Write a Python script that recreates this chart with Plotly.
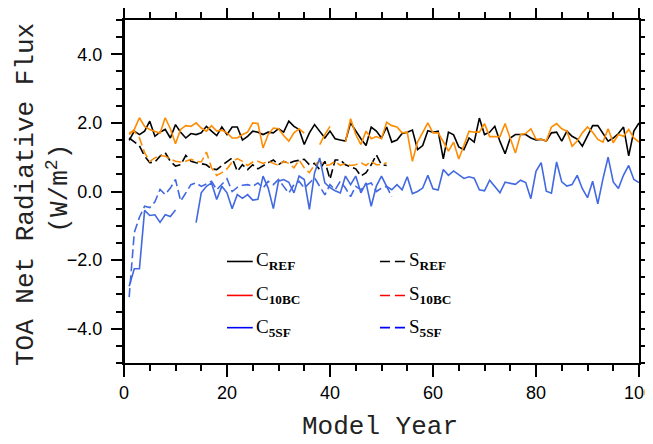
import plotly.graph_objects as go

# ---------------- data ----------------
years_c = list(range(1, 101))
years_s_ref = list(range(1, 52))
years_s_10bc = list(range(1, 52))
years_s_5sf = list(range(1, 53))

c_ref = [1.49, 1.76, 1.66, 1.76, 2.05, 1.61, 1.73, 1.81, 1.56, 1.95,
         1.73, 1.56, 1.69, 1.66, 1.71, 1.90, 1.76, 1.63, 1.88, 1.66,
         1.88, 1.88, 1.50, 1.61, 1.76, 1.73, 1.66, 1.73, 1.71, 1.83,
         1.73, 2.05, 1.90, 1.81, 1.37, 1.71, 1.95, 1.76, 1.56, 1.76,
         1.54, 1.50, 1.47, 2.00, 1.76, 1.54, 1.34, 1.88, 1.76, 1.56,
         1.88, 1.44, 1.50, 1.69, 1.73, 1.79, 1.22, 1.34, 1.77, 1.73,
         1.76, 0.95, 1.73, 1.65, 1.30, 1.22, 1.56, 1.44, 2.14, 1.66,
         1.73, 1.90, 1.46, 1.10, 1.56, 1.66, 1.66, 1.66, 1.56, 1.50,
         1.52, 1.47, 1.71, 1.73, 1.47, 1.76, 1.61, 1.53, 1.32, 1.61,
         1.92, 1.92, 1.71, 1.47, 1.56, 1.69, 1.88, 1.04, 1.76, 2.00]

c_10bc = [1.66, 1.81, 2.15, 1.90, 1.81, 1.76, 1.70, 2.15, 1.83, 1.39,
          1.81, 1.92, 1.90, 2.00, 1.85, 1.76, 1.92, 1.76, 1.79, 1.71,
          1.56, 1.56, 1.66, 1.73, 2.00, 1.98, 1.27, 1.66, 1.85, 1.83,
          1.63, 1.47, 1.71, 1.83, 1.70, None, None, 1.37, 1.66, 1.90,
          None, None, 1.45, 2.12, 1.66, 1.37, 1.76, 1.54, 1.60, 1.54,
          2.02, 1.92, 1.88, 1.71, 1.73, 0.88, 1.44, 1.71, 2.00, 1.71,
          1.71, 1.45, 1.18, 1.44, 0.95, 1.34, 1.76, 1.73, 1.73, 1.98,
          1.60, 1.60, 1.60, 1.98, 1.54, 1.12, 1.66, 1.69, 1.83, 1.53,
          1.52, 1.47, 1.88, 1.98, 1.83, 1.76, 1.32, 1.47, 1.71, 1.88,
          1.73, 1.52, 1.44, 1.83, 1.42, 1.66, 1.61, 1.81, 1.56, 1.44]

c_5sf = [-2.76, -2.25, -2.25, -0.55, -0.70, -0.68, -0.90, -0.68, -0.73, -0.54,
         None, None, None, -0.91, -0.04, 0.15, 0.25, -0.23, 0.15, -0.04,
         -0.50, -0.09, -0.20, -0.09, -0.25, -0.23, 0.45, 0.10, -0.50, 0.30,
         0.35, 0.27, -0.04, 0.45, 0.35, -0.52, 0.54, 0.98, 0.25, 0.11,
         0.02, -0.04, 0.45, 0.20, 0.45, -0.04, 0.25, -0.43, 0.16, 0.45,
         0.15, 0.05, 0.20, 0.05, 0.43, -0.06, 0.00, 0.10, 0.47, 0.08,
         0.04, 0.64, 0.47, 0.60, 0.50, 0.38, 0.43, 0.39, 0.05, 0.02,
         0.33, 0.16, -0.04, 0.27, 0.25, 0.21, 0.33, 0.26, -0.21, 0.59,
         0.84, 0.01, -0.05, 0.86, 0.28, 0.16, 0.20, 0.47, 0.08, -0.18,
         0.30, -0.36, 0.37, 1.00, 0.28, 0.09, 0.48, 0.76, 0.35, 0.26]

s_ref = [1.56, 1.45, 1.33, 1.03, 0.84, 0.86, 1.03, 1.13, 0.88, 0.74,
         0.78, 1.05, 0.88, 0.84, 0.82, 0.78, 0.66, 0.64, 0.76, 0.86,
         0.98, 0.59, 0.78, 0.64, 0.78, 0.66, 0.76, 0.84, 0.92, 0.78,
         0.88, 0.82, 0.88, 0.92, 0.94, 0.78, 0.82, 0.64, 0.88, 0.36,
         0.92, 0.92, 0.78, 0.72, 0.66, 0.45, 0.55, 0.78, 1.07, 0.78,
         0.76]

s_10bc = [1.71, 1.76, 1.56, 1.13, 0.88, 0.98, 1.05, 1.03, 0.94, 0.88,
          0.86, 0.88, 0.94, 0.88, 0.86, 1.15, 0.69, 0.47, 0.55, 0.66,
          0.86, 0.96, 0.88, 0.76, 0.86, 0.88, 0.82, 0.88, 0.82, 0.76,
          0.88, 0.82, 0.69, 0.92, 0.69, 0.55, 0.78, 0.88, 0.76, 0.78,
          0.88, 0.76, 0.82, 0.76, 0.78, 0.84, 0.76, 0.88, 0.78, 0.78,
          0.84]

s_5sf = [-3.08, -1.20, -0.75, -0.43, -0.47, -0.30, 0.06, -0.09, 0.10, 0.35,
         -0.28, -0.05, 0.20, 0.25, 0.15, 0.22, 0.30, 0.05, 0.20, 0.37,
         0.00, 0.12, 0.18, 0.20, 0.15, 0.25, 0.10, 0.30, 0.20, 0.35,
         0.15, -0.05, 0.20, 0.30, 0.10, 0.25, 0.40, 0.15, -0.10, 0.20,
         0.05, 0.30, 0.10, -0.15, 0.15, 0.05, 0.20, 0.25, 0.00, 0.10,
         0.15, -0.15]

legend_left = ["C<sub><b>REF</b></sub>", "C<sub><b>10BC</b></sub>", "C<sub><b>5SF</b></sub>"]
legend_right = ["S<sub><b>REF</b></sub>", "S<sub><b>10BC</b></sub>", "S<sub><b>5SF</b></sub>"]
legend_colors = ["black", "#FF0000", "#0000FF"]

# ---------------- figure ----------------
BLACK = "black"
ORANGE = "#FF8C00"
BLUE = "#4169E1"
DASH = "9px,4px"
LW = 1.6

fig = go.Figure()
fig.add_trace(go.Scatter(x=years_c, y=c_ref, mode="lines", line=dict(color=BLACK, width=LW)))
fig.add_trace(go.Scatter(x=years_s_ref, y=s_ref, mode="lines", line=dict(color=BLACK, width=LW, dash=DASH)))
fig.add_trace(go.Scatter(x=years_c, y=c_10bc, mode="lines", line=dict(color=ORANGE, width=LW)))
fig.add_trace(go.Scatter(x=years_s_10bc, y=s_10bc, mode="lines", line=dict(color=ORANGE, width=LW, dash=DASH)))
fig.add_trace(go.Scatter(x=years_c, y=c_5sf, mode="lines", line=dict(color=BLUE, width=LW)))
fig.add_trace(go.Scatter(x=years_s_5sf, y=s_5sf, mode="lines", line=dict(color=BLUE, width=LW, dash=DASH)))

axis_common = dict(showline=True, linewidth=2, linecolor="black", mirror="ticks",
                   ticks="outside", tickwidth=2, tickcolor="black", showgrid=False,
                   zeroline=False, automargin=False, ticklabeloverflow="allow",
                   tickfont=dict(family="Liberation Sans", size=18, color="black"))

fig.update_xaxes(range=[0, 100], tick0=0, dtick=20, ticklen=12,
                 minor=dict(dtick=5, ticklen=6, ticks="outside", tickwidth=1.5, tickcolor="black"),
                 **axis_common)
fig.update_yaxes(range=[-5, 5], tick0=0, dtick=2, ticklen=11, tickformat=".1f",
                 ticksuffix="\u00a0",
                 minor=dict(dtick=0.5, ticklen=6, ticks="outside", tickwidth=1.5, tickcolor="black"),
                 **axis_common)

shapes = []
annotations = []
rows_y = [-2.04, -3.03, -3.97]
for i in range(3):
    shapes.append(dict(type="line", xref="x", yref="y", x0=20.0, x1=25.0, y0=rows_y[i], y1=rows_y[i],
                       line=dict(color=legend_colors[i], width=1.6)))
    shapes.append(dict(type="line", xref="x", yref="y", x0=49.7, x1=54.6, y0=rows_y[i], y1=rows_y[i],
                       line=dict(color=legend_colors[i], width=1.6, dash="10px,5px")))
    annotations.append(dict(x=25.3, y=rows_y[i], xref="x", yref="y", text=legend_left[i],
                            showarrow=False, xanchor="left", yanchor="middle",
                            font=dict(family="Liberation Serif", size=19, color="black")))
    annotations.append(dict(x=54.9, y=rows_y[i], xref="x", yref="y", text=legend_right[i],
                            showarrow=False, xanchor="left", yanchor="middle",
                            font=dict(family="Liberation Serif", size=19, color="black")))

# left spine extension (as in the reference)
shapes.append(dict(type="line", xref="paper", yref="paper", x0=0, x1=0, y0=-0.03, y1=1.03,
                   line=dict(color="black", width=2)))

title_font = dict(family="Liberation Mono", size=26, color="#222222")
annotations.append(dict(x=0.497, y=-0.236, xref="paper", yref="paper", text="Model Year",
                        showarrow=False, xanchor="center", yanchor="bottom", font=title_font))
annotations.append(dict(x=-0.19, y=0.49, xref="paper", yref="paper", text="TOA Net Radiative Flux",
                        showarrow=False, textangle=-90, xanchor="center", yanchor="middle", font=title_font))
annotations.append(dict(x=-0.127, y=0.51, xref="paper", yref="paper", text="(W/m<sup>2</sup>)",
                        showarrow=False, textangle=-90, xanchor="center", yanchor="middle", font=title_font))

# the page body adds an 8px offset, so the figure is sized/margined to compensate
fig.update_layout(width=645, height=436, showlegend=False,
                  margin=dict(l=116, r=14, t=12, b=81),
                  paper_bgcolor="white", plot_bgcolor="white",
                  shapes=shapes, annotations=annotations)

fig.write_html("out.html")
